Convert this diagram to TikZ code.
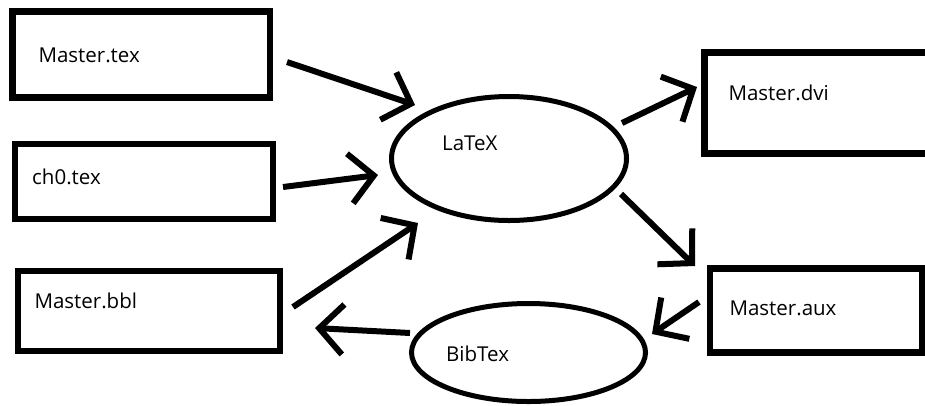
\documentclass[tikz,border=0pt]{standalone}
\usepackage{fontspec}
\setmainfont{Open Sans}
\usetikzlibrary{shapes.geometric,arrows.meta}
\tikzset{
  box/.style={draw, line width=6.5pt, rectangle, inner sep=0pt},
  oval/.style={draw, line width=5pt, ellipse, inner sep=0pt},
  lbl/.style={anchor=base west, inner sep=0pt, font=\fontsize{20.5pt}{24pt}\selectfont},
  arr/.style={line width=6pt, -{Straight Barb[length=24pt,width=50pt]}},
}
\begin{document}
\begin{tikzpicture}[x=1pt,y=-1pt]
\useasboundingbox (0,0) rectangle (925,405);
% boxes
\node[box, minimum width=257.5pt, minimum height=86pt] (mtex) at (141.25,54.5) {};
\node[box, minimum width=258pt, minimum height=75pt] (ch0) at (144,181.5) {};
\node[box, minimum width=262pt, minimum height=80pt] (bbl) at (149,311) {};
\node[box, minimum width=255.5pt, minimum height=101pt] (dvi) at (832.25,103) {};
\node[box, minimum width=212pt, minimum height=84pt] (aux) at (816,310.5) {};
% ellipses
\node[oval, minimum width=235pt, minimum height=124pt] (latex) at (509,158.5) {};
\node[oval, minimum width=234pt, minimum height=98pt] (bibtex) at (528.5,352.5) {};
% labels
\node[lbl] (tmtex) at (38.3,62.7) {Master.tex};
\node[lbl] (tch0) at (32,184.3) {ch0.tex};
\node[lbl] (tbbl) at (34.3,308.3) {Master.bbl};
\node[lbl] (tlatex) at (442,150) {LaTeX};
\node[lbl] (tbib) at (446,361.7) {BibTex};
\node[lbl] (tdvi) at (728.3,100) {Master.dvi};
\node[lbl] (taux) at (729.3,315) {Master.aux};
% connector end points
\coordinate (a1s) at (287,62);  \coordinate (a1e) at (415,105);
\coordinate (a2s) at (283,187); \coordinate (a2e) at (378,175);
\coordinate (a3s) at (293,307); \coordinate (a3e) at (418,223);
\coordinate (a4s) at (410,333); \coordinate (a4e) at (315,328);
\coordinate (a5s) at (622,123); \coordinate (a5e) at (697,87);
\coordinate (a6s) at (621,194); \coordinate (a6e) at (695,266);
\coordinate (a7s) at (699,302); \coordinate (a7e) at (652,334);
\draw[arr] (a1s) -- (a1e);
\draw[arr] (a2s) -- (a2e);
\draw[arr] (a3s) -- (a3e);
\draw[arr] (a4s) -- (a4e);
\draw[arr] (a5s) -- (a5e);
\draw[arr] (a6s) -- (a6e);
\draw[arr] (a7s) -- (a7e);
\end{tikzpicture}
\end{document}
